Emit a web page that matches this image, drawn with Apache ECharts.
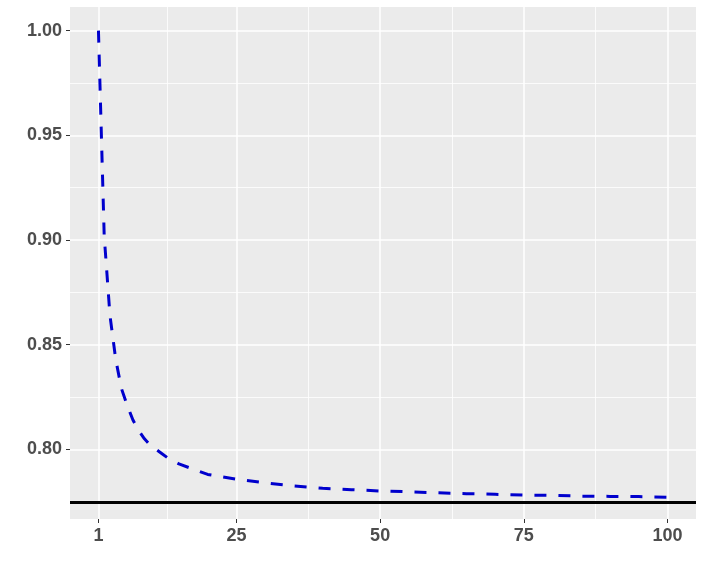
<!DOCTYPE html>
<html>
<head>
<meta charset="utf-8">
<script src="https://cdn.jsdelivr.net/npm/echarts@6/dist/echarts.min.js"></script>
<style>
  html, body { margin: 0; padding: 0; background: #fff; }
  #chart { width: 704px; height: 572px; }
</style>
</head>
<body>
<div id="chart"></div>
<script>
// values
const xValues = [1, 2, 3, 4, 5, 6, 7, 8, 9, 10, 12, 13, 15, 17, 20, 25, 30, 35, 40, 45, 50, 55, 60, 65, 70, 75, 80, 85, 90, 95, 100]
const yValues = [1.000, 0.902, 0.864, 0.843, 0.829, 0.821, 0.814, 0.809, 0.805, 0.802, 0.798, 0.796, 0.793, 0.791, 0.788, 0.7857, 0.784, 0.7825, 0.7814, 0.7807, 0.7801, 0.7797, 0.7792, 0.7788, 0.7785, 0.7781, 0.7780, 0.7776, 0.7775, 0.7774, 0.7771]
const refLevel = 0.7746

const xBreaks = [1, 25, 50, 75, 100]
const xMinorBreaks = [13, 37.5, 62.5, 87.5]
const yBreaks = [0.80, 0.85, 0.90, 0.95, 1.00]
const yMinorBreaks = [0.775, 0.825, 0.875, 0.925, 0.975]

const xRange = [-3.95, 104.95]
const yRange = [0.7667, 1.0113]

const chart = echarts.init(document.getElementById('chart'))

const labelStyle = {
  fontFamily: 'Liberation Sans, Arial, sans-serif',
  fontWeight: 'bold',
  fontSize: 18,
  color: '#4D4D4D'
}

const option = {
  animation: false,
  backgroundColor: '#fff',
  grid: {
    left: 70,
    right: 8,
    top: 7,
    bottom: 53,
    show: true,
    backgroundColor: '#EBEBEB',
    borderWidth: 0
  },
  xAxis: [
    {
      type: 'value',
      min: xRange[0],
      max: xRange[1],
      axisLine: { show: false, onZero: false },
      axisTick: { show: true, length: 4, customValues: xBreaks, lineStyle: { color: '#333333', width: 1 } },
      axisLabel: { ...labelStyle, margin: 8, customValues: xBreaks, formatter: v => String(v) },
      splitLine: { show: true, lineStyle: { color: '#FFFFFF', width: 1.5 } }
    },
    {
      type: 'value',
      min: xRange[0],
      max: xRange[1],
      position: 'bottom',
      axisLine: { show: false, onZero: false },
      axisTick: { show: false, customValues: xMinorBreaks },
      axisLabel: { show: false, customValues: xMinorBreaks },
      splitLine: { show: true, lineStyle: { color: '#FFFFFF', width: 0.8 } }
    }
  ],
  yAxis: [
    {
      type: 'value',
      min: yRange[0],
      max: yRange[1],
      axisLine: { show: false, onZero: false },
      axisTick: { show: true, length: 4, customValues: yBreaks, lineStyle: { color: '#333333', width: 1 } },
      axisLabel: { ...labelStyle, margin: 8, customValues: yBreaks, formatter: v => v.toFixed(2) },
      splitLine: { show: true, lineStyle: { color: '#FFFFFF', width: 1.5 } }
    },
    {
      type: 'value',
      min: yRange[0],
      max: yRange[1],
      position: 'left',
      axisLine: { show: false, onZero: false },
      axisTick: { show: false, customValues: yMinorBreaks },
      axisLabel: { show: false, customValues: yMinorBreaks },
      splitLine: { show: true, lineStyle: { color: '#FFFFFF', width: 0.8 } }
    }
  ],
  series: [
    {
      // horizontal reference level
      type: 'line',
      xAxisIndex: 0,
      yAxisIndex: 0,
      data: [[xRange[0], refLevel], [xRange[1], refLevel]],
      showSymbol: false,
      silent: true,
      lineStyle: { color: '#000000', width: 3, type: 'solid' }
    },
    {
      type: 'line',
      xAxisIndex: 0,
      yAxisIndex: 0,
      data: xValues.map((x, i) => [x, yValues[i]]),
      showSymbol: false,
      lineStyle: { color: '#0000CD', width: 3, type: [12, 12] }
    }
  ]
}

chart.setOption(option)
</script>
</body>
</html>
